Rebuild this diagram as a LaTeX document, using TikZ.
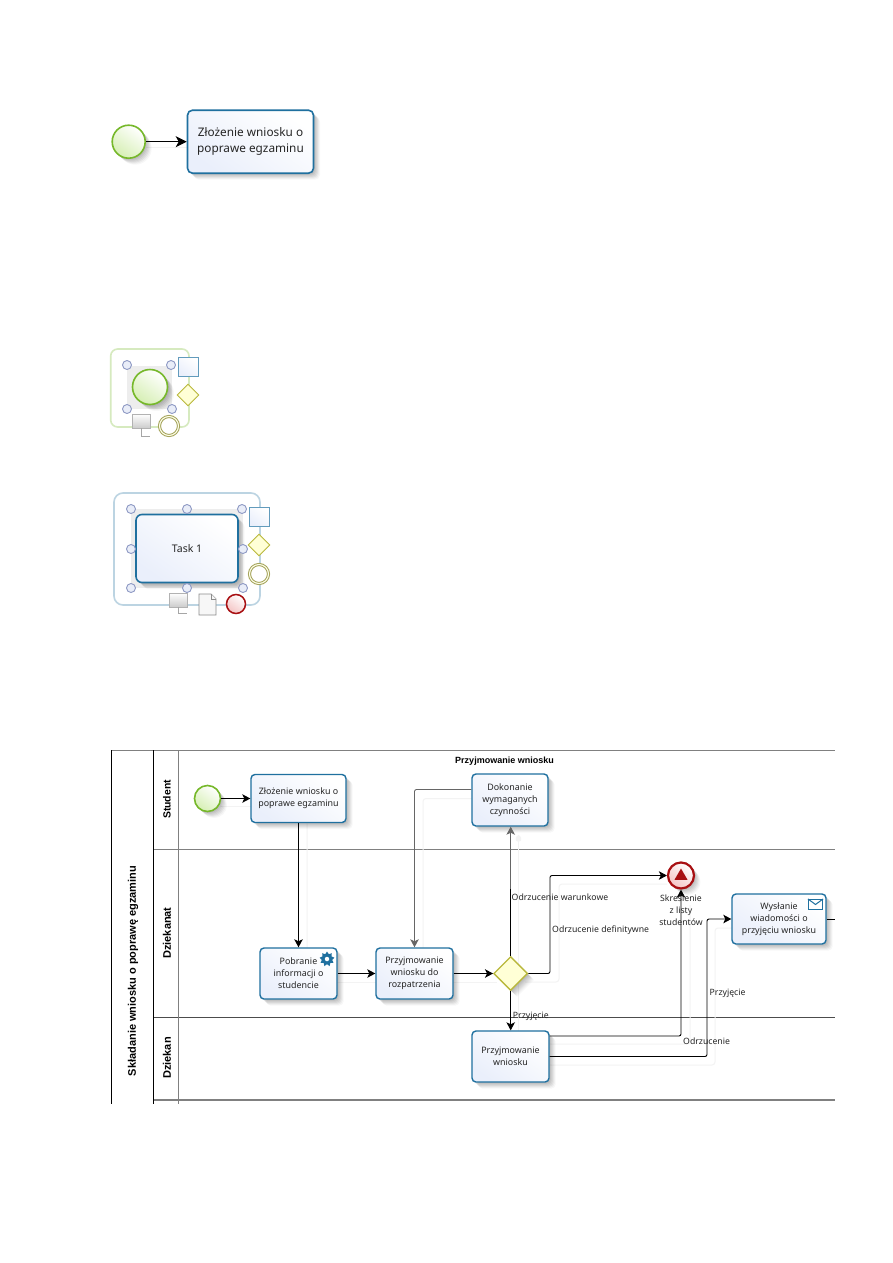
\documentclass[tikz,border=0pt]{standalone}
\usepackage{fontspec}
\setmainfont{Noto Sans}
\newfontfamily\titlefont{Liberation Sans}
\usetikzlibrary{arrows.meta,shapes.geometric,shadows,calc}
\definecolor{taskline}{HTML}{1F709F}
\definecolor{taskfill}{HTML}{EAEFFB}
\definecolor{greenline}{HTML}{76B82A}
\definecolor{greenfill}{HTML}{D6EFB4}
\definecolor{gateline}{HTML}{B9B83C}
\definecolor{gatefill}{HTML}{FFFFD6}
\definecolor{redline}{HTML}{A80F12}
\definecolor{redfill}{HTML}{F4C4C4}
\definecolor{ghost}{HTML}{F3F3F3}
\definecolor{laneline}{HTML}{808080}
\definecolor{handleline}{HTML}{8E99C4}
\definecolor{handlefill}{HTML}{E9EDF8}
\tikzset{
  softshadow/.style={
    general shadow={shadow xshift=1.5pt,shadow yshift=-1.5pt,fill=black,opacity=.05},
    general shadow={shadow xshift=2.5pt,shadow yshift=-2.5pt,fill=black,opacity=.05},
    general shadow={shadow xshift=3.5pt,shadow yshift=-3.5pt,fill=black,opacity=.05},
    general shadow={shadow xshift=4.5pt,shadow yshift=-4.5pt,fill=black,opacity=.05},
    general shadow={shadow xshift=5.5pt,shadow yshift=-5.5pt,fill=black,opacity=.04},
    general shadow={shadow xshift=6.5pt,shadow yshift=-6.5pt,fill=black,opacity=.03}},
  task/.style={softshadow,draw=taskline,line width=1.4pt,rounded corners=4pt,
    top color=white,bottom color=taskfill,shading angle=-35,inner sep=0pt,align=center,
    font=\fontsize{8.9}{12}\selectfont,text=black!85},
  bigtask/.style={task,rounded corners=5pt,line width=1.6pt,font=\fontsize{11.8}{16}\selectfont},
  startev/.style={softshadow,circle,draw=greenline,line width=1.6pt,inner sep=0pt,
    top color=white,bottom color=greenfill,shading angle=-35},
  endev/.style={softshadow,circle,draw=redline,line width=2.2pt,inner sep=0pt,
    top color=white,bottom color=redfill,shading angle=-35},
  gate/.style={softshadow,diamond,draw=gateline,line width=1.4pt,inner sep=0pt,aspect=1,
    fill=gatefill},
  flow/.style={draw=black,line width=.9pt,rounded corners=2pt,-{Stealth[length=8pt,width=8.5pt,inset=2pt]}},
  flowline/.style={draw=black,line width=.9pt},
  ghostline/.style={draw=ghost,line width=1pt,rounded corners=3pt},
  lanegray/.style={draw=laneline,line width=.8pt},
  lanedark/.style={draw=black!70,line width=1pt},
  poolline/.style={draw=black,line width=1pt},
  lanetitle/.style={rotate=90,font=\titlefont\bfseries\fontsize{11}{12}\selectfont,inner sep=0pt},
  lbl/.style={inner sep=0pt,align=center,font=\fontsize{8.7}{12}\selectfont,text=black!85},
  handle/.style={circle,draw=handleline,line width=.9pt,fill=handlefill,minimum size=9pt,inner sep=0pt},
  selarea/.style={fill=black!7,draw=none},
  frameg/.style={draw=greenline!30,line width=1.6pt,rounded corners=7pt},
  frameb/.style={draw=taskline!30,line width=1.6pt,rounded corners=9pt},
  minitask/.style={draw=taskline!70,line width=.9pt,top color=white,bottom color=taskfill,shading angle=-35,
    minimum width=20pt,minimum height=19pt,inner sep=0pt},
  minigate/.style={diamond,draw=gateline,line width=.9pt,fill=gatefill,minimum size=22pt,inner sep=0pt,aspect=1},
  miniring/.style={circle,draw=gateline!60!gray,line width=1pt,double=gatefill!50,double distance=1.1pt,fill=white,minimum size=19pt,inner sep=0pt},
  minianno/.style={draw=black!30,line width=.8pt,top color=white,bottom color=black!20,
    minimum width=18pt,minimum height=14pt,inner sep=0pt},
  tail/.style={draw=black!35,line width=.5pt},
  minidoc/.style={draw=black!45,line width=.8pt,fill=black!3},
  miniend/.style={circle,draw=redline,line width=1.5pt,top color=white,bottom color=redfill,minimum size=19pt,inner sep=0pt,shading angle=-35},
  gearicon/.style={star,star points=9,star point ratio=1.45,fill=taskline,draw=none,minimum size=15pt,inner sep=0pt},
  gearhole/.style={circle,fill=white,minimum size=4.5pt,inner sep=0pt,draw=none},
  mail/.style={draw=taskline,line width=1.1pt,fill=white,minimum width=14pt,minimum height=10pt,inner sep=0pt},
  mailflap/.style={draw=taskline,line width=1pt},
  triangleicon/.style={regular polygon,regular polygon sides=3,fill=redline,draw=none,minimum size=15pt,inner sep=0pt},
}
\begin{document}
\begin{tikzpicture}[x=1pt,y=-1pt]
\useasboundingbox (0,0) rectangle (893,1263);
\fill[white] (0,0) rectangle (893,1263);

% ---- first fragment
\coordinate (gA1) at (146,147);
\coordinate (gA2) at (187,147);
\draw[ghostline] (gA1) -- (gA2);
\node[startev,minimum size=33pt] (bigstart) at (128.7,141.7) {};
\node[bigtask,minimum width=126pt,minimum height=63pt] (bigtask) at (250.5,141.7) {Złożenie wniosku o\\poprawe egzaminu};
\draw[flow,line width=1pt,-{Stealth[length=11pt,width=11pt,inset=3pt]}] (bigstart) -- (bigtask);

% ---- second fragment
\draw[frameg] (110.7,349) rectangle (189,427);
\fill[selarea] (127,366) rectangle (172,409);
\node[startev,minimum size=35pt] (palstart) at (150,387) {};
\node[handle] (h1) at (127,365) {};
\node[handle] (h2) at (171,365) {};
\node[handle] (h3) at (127,409) {};
\node[handle] (h4) at (172,409) {};
\node[minitask] (palt) at (188.5,366.5) {};
\node[minigate] (palg) at (188,395) {};
\node[minianno] (pala) at (141,421) {};
\coordinate (palaT) at (150,436);
\draw[tail] (pala.south) |- (palaT);
\node[miniring] (palr) at (169,426) {};

% ---- third fragment
\draw[frameb] (114,493) rectangle (260,605);
\fill[selarea] (131,509) rectangle (243,588);
\node[task,line width=1.6pt,rounded corners=6pt,minimum width=102pt,minimum height=68pt,font=\fontsize{10.5}{12}\selectfont] (taskone) at (187,548.5) {Task 1};
\foreach \n/\x/\y in {a/131/509,b/187/509,c/242/509,d/131/549,e/243/549,f/131/588,g/187/588,i/243/588}{
  \node[handle] (th\n) at (\x,\y) {};
}
\node[minitask] (tt) at (259.5,516.5) {};
\node[minigate] (tg) at (259,545) {};
\node[miniring] (tr) at (259,574) {};
\node[minianno] (ta) at (178.5,600) {};
\coordinate (taT) at (187,613.5);
\draw[tail] (ta.south) |- (taT);
\draw[minidoc] (199,594) -- (211,594) -- (216,599) -- (216,615) -- (199,615) -- cycle;
\draw[minidoc] (211,594) -- (211,599) -- (216,599);
\node[miniend] (te) at (236,604) {};

% ---- pool frame
\draw[lanegray] (111,750) -- (835,750);
\draw[lanegray] (153.5,849.5) -- (835,849.5);
\draw[lanedark] (153.5,1017.5) -- (835,1017.5);
\draw[lanegray,line width=1.2pt] (153.5,1100) -- (835,1100);
\draw[poolline] (111.5,750) -- (111.5,1104);
\draw[poolline] (153.5,750) -- (153.5,1104);
\draw[lanegray] (178.5,750) -- (178.5,1104);
\node[lanetitle] (pooltitle) at (133,971) {Składanie wniosku o poprawę egzaminu};
\node[lanetitle,font=\titlefont\bfseries\fontsize{10.4}{12}\selectfont] (lane1) at (167,799.5) {Student};
\node[lanetitle] (lane2) at (167,933) {Dziekanat};
\node[lanetitle] (lane3) at (167,1058) {Dziekan};
\node[inner sep=0pt,font=\titlefont\bfseries\fontsize{9}{10}\selectfont] (procname) at (504.5,761.5) {Przyjmowanie wniosku};

% ---- ghost connectors
\draw[ghostline] (220,806) -- (251,806);
\draw[ghostline] (346,806) -- (307,806) -- (307,948);
\draw[ghostline] (337,982) -- (376,982);
\draw[ghostline] (453,982) -- (497,982);
\draw[ghostline] (472,798.5) -- (423,798.5) -- (423,948);
\draw[ghostline] (518.5,1031) -- (518.5,835);
\draw[ghostline,fill=ghost] (518.5,834) -- (515,841) -- (522,841) -- cycle;
\draw[ghostline] (525,982) -- (559,982) -- (559,884) -- (667,884);
\draw[ghostline] (549,1044) -- (690,1044) -- (690,905);
\draw[ghostline] (549,1065) -- (715,1065) -- (715,928) -- (732,928);

% ---- process nodes
\node[startev,minimum size=26pt] (start) at (207.5,798.5) {};
\node[task,minimum width=95pt,minimum height=48pt] (zloz) at (298.5,798.5) {Złożenie wniosku o\\poprawe egzaminu};
\node[task,minimum width=77pt,minimum height=51pt] (pobr) at (298.5,973.5) {Pobranie\\informacji o\\studencie};
\node[task,minimum width=77pt,minimum height=51pt] (przyj) at (414.5,973.5) {Przyjmowanie\\wniosku do\\rozpatrzenia};
\node[task,minimum width=76pt,minimum height=52pt] (dok) at (510,800) {Dokonanie\\wymaganych\\czynności};
\node[gate,minimum size=34pt] (gw) at (510.7,973.5) {};
\node[task,minimum width=77pt,minimum height=51pt] (pw) at (510.5,1056.5) {Przyjmowanie\\wniosku};
\node[endev,minimum size=26pt] (end) at (681,875.5) {};
\node[triangleicon] (endtri) at (681,876) {};
\node[task,minimum width=94pt,minimum height=50pt] (wys) at (779,919) {Wysłanie\\wiadomości o\\przyjęciu wniosku};

% ---- icons
\node[gearicon] (gear) at (327,959) {};
\node[gearhole] (gearh) at (327,959) {};
\node[mail] (mailb) at (815.5,904.5) {};
\draw[mailflap] (mailb.north west) -- (mailb.center) -- (mailb.north east);

% ---- connectors
\coordinate (gwBend) at (550,973.5);
\coordinate (pwBend) at (707,1056.5);
\coordinate (gwGray) at (510.7,889);
\coordinate (wysOut) at (835,919);
\draw[flow] (start) -- (zloz);
\draw[flow] (zloz) -- (pobr);
\draw[flow] (pobr) -- (przyj);
\draw[flow] (przyj) -- (gw);
\draw[flow,draw=black!60] ([yshift=10.5pt]dok.west) -| (przyj.north);
\draw[flowline] (gw.north) -- (gwGray);
\draw[flow,draw=black!60] (gwGray) -- (gwGray |- dok.south);
\draw[flow] (gw.south) -- (gw.south |- pw.north);
\draw[flow] (gw.east) -- (gwBend) |- (end.west);
\draw[flow] ([yshift=20.5pt]pw.east) -| (end.south);
\draw[flow] (pw.east) -- (pwBend) |- (wys.west);
\draw[flowline] (wys.east) -- (wysOut);

% ---- labels
\node[lbl,anchor=west] (l1) at (511.5,897) {Odrzucenie warunkowe};
\node[lbl,anchor=west] (l2) at (552,930) {Odrzucenie definitywne};
\node[lbl,anchor=west] (l3) at (512.7,1016.7) {Przyjęcie};
\node[lbl,anchor=west] (l4) at (709.5,993.7) {Przyjęcie};
\node[lbl,anchor=west] (l5) at (683,1041.7) {Odrzucenie};
\node[lbl] (l6) at (681,909.7) {Skreślenie\\z listy\\studentów};
\end{tikzpicture}
\end{document}
